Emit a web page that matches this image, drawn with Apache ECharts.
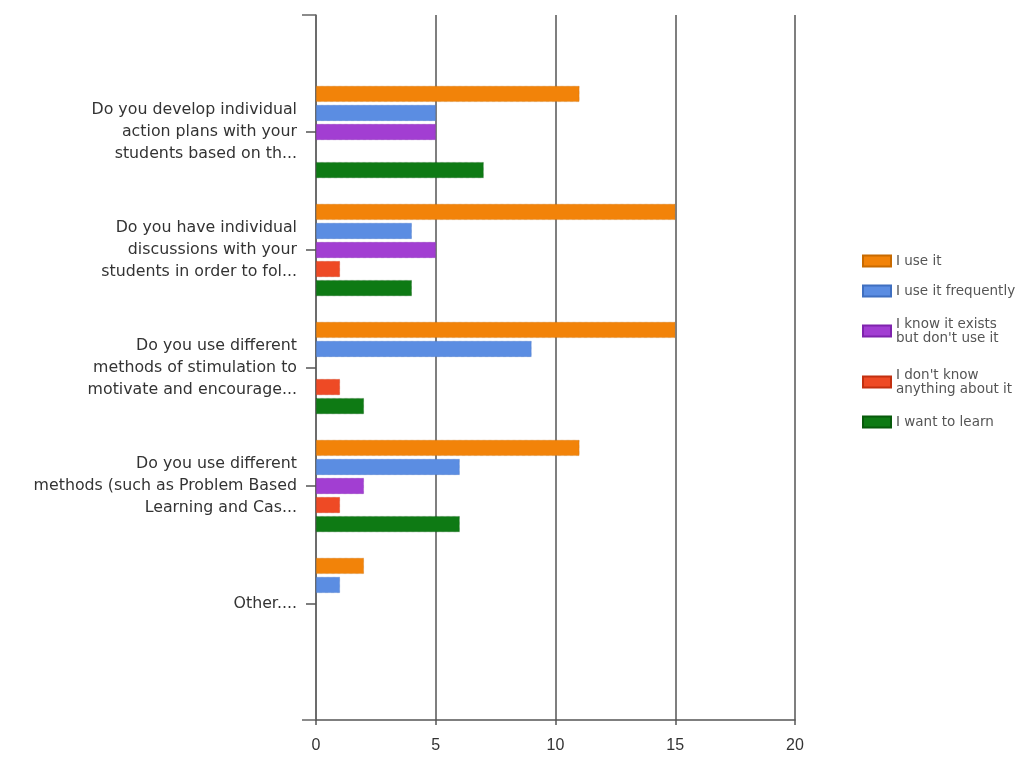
<!DOCTYPE html>
<html>
<head>
<meta charset="utf-8">
<script src="https://cdn.jsdelivr.net/npm/echarts@6/dist/echarts.min.js"></script>
<style>
  html, body { margin: 0; padding: 0; background: #fff; }
  #chart { width: 1021px; height: 757px; }
</style>
</head>
<body>
<div id="chart"></div>
<script>
// Survey questions (already shortened as displayed)
const categories = [
  'Do you develop individual\naction plans with your\nstudents based on th...',
  'Do you have individual\ndiscussions with your\nstudents in order to fol...',
  'Do you use different\nmethods of stimulation to\nmotivate and encourage...',
  'Do you use different\nmethods (such as Problem Based\nLearning and Cas...',
  'Other....'
];

const seriesNames = [
  'I use it',
  'I use it frequently',
  "I know it exists but don't use it",
  "I don't know anything about it",
  'I want to learn'
];

// Legend text with line breaks
const legendLabels = {
  'I use it': 'I use it',
  'I use it frequently': 'I use it frequently',
  "I know it exists but don't use it": "I know it exists\nbut don't use it",
  "I don't know anything about it": "I don't know\nanything about it",
  'I want to learn': 'I want to learn'
};

// Response counts per question
const useIt        = [11, 15, 15, 11, 2];
const useFrequent  = [5, 4, 9, 6, 1];
const knowNotUse   = [5, 5, 0, 2, 0];
const dontKnow     = [0, 1, 1, 1, 0];
const wantToLearn  = [7, 4, 2, 6, 0];

const xTicks = [0, 5, 10, 15, 20];

const colors = ['#f28309', '#5b8de2', '#a23ed2', '#ee4a25', '#0e7a14'];
const borders = ['#c86a00', '#3f6fc0', '#7f23ad', '#c23010', '#075a0b'];
const values = [useIt, useFrequent, knowNotUse, dontKnow, wantToLearn];

const FONT = 'DejaVu Sans, Verdana, sans-serif';
const TICK_FONT = 'Liberation Sans Narrow, Liberation Sans, Arial, sans-serif';

const chart = echarts.init(document.getElementById('chart'));

const barSeries = seriesNames.map((name, i) => ({
  name: name,
  type: 'bar',
  xAxisIndex: 1,
  yAxisIndex: 1,
  data: values[i].map(v => (v === 0 ? null : v)),
  barWidth: 16,
  barGap: '19%',
  itemStyle: { color: colors[i], borderColor: borders[i], borderWidth: 0.6, borderType: 'dotted' },
  emphasis: { disabled: true }
}));

// One legend block per entry so each sits at its own height
const legendTops = [249, 279, 312, 363, 410];
const legends = seriesNames.map((name, i) => ({
  orient: 'vertical',
  left: 857,
  top: legendTops[i],
  itemWidth: 28,
  itemHeight: 11,
  icon: 'rect',
  textStyle: { fontFamily: FONT, fontSize: 13.5, color: '#555', lineHeight: 14 },
  formatter: n => legendLabels[n],
  data: [name]
}));

chart.setOption({
  animation: false,
  backgroundColor: '#ffffff',
  color: colors,
  legend: legends,
  grid: [
    // frame with gridlines
    { left: 316, right: 226, top: 15, bottom: 37, containLabel: false },
    // bars area
    { left: 316, right: 226, top: 73, bottom: 94, containLabel: false }
  ],
  xAxis: [
    {
      gridIndex: 0,
      type: 'value',
      min: xTicks[0],
      max: xTicks[xTicks.length - 1],
      interval: 5,
      axisLine: { show: true, lineStyle: { color: '#555', width: 1.5 } },
      axisTick: { show: true, length: 5, lineStyle: { color: '#555', width: 1.5 } },
      axisLabel: {
        margin: 18,
        fontFamily: TICK_FONT,
        fontSize: 16,
        color: '#333'
      },
      splitLine: { show: true, lineStyle: { color: '#555', width: 1.5 } }
    },
    {
      gridIndex: 1,
      type: 'value',
      min: 0,
      max: 20,
      interval: 5,
      show: false
    }
  ],
  yAxis: [
    {
      gridIndex: 0,
      type: 'value',
      min: 0,
      max: 1,
      interval: 1,
      axisLine: { show: true, lineStyle: { color: '#666', width: 1.5 } },
      axisTick: { show: true, length: 14, lineStyle: { color: '#666', width: 1.5 } },
      axisLabel: { show: false },
      splitLine: { show: false }
    },
    {
      gridIndex: 1,
      type: 'category',
      inverse: true,
      data: categories,
      axisLine: { show: false },
      axisTick: { show: true, alignWithLabel: true, length: 10, lineStyle: { color: '#555', width: 1.5 } },
      axisLabel: {
        margin: 19,
        fontFamily: FONT,
        fontSize: 15.8,
        lineHeight: 22,
        color: '#333',
        align: 'right'
      },
      splitLine: { show: false }
    }
  ],
  series: barSeries
});
</script>
</body>
</html>
